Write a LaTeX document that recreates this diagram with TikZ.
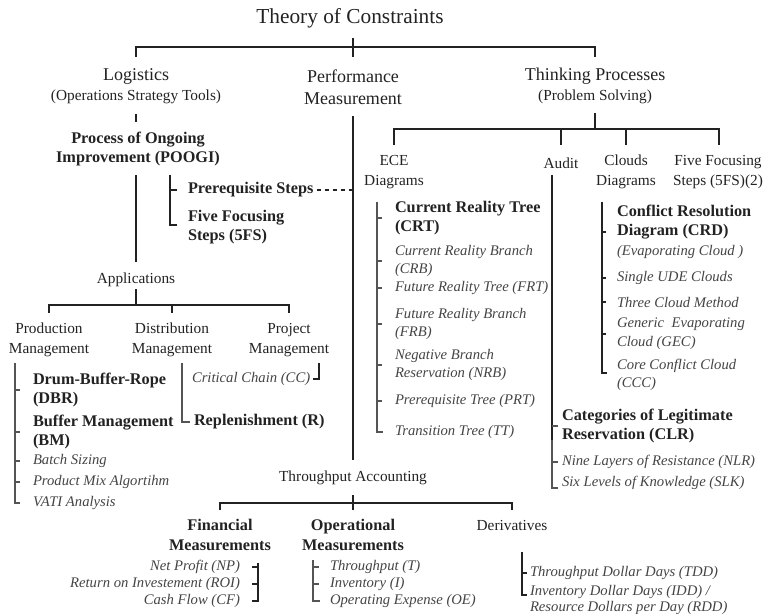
\documentclass[tikz,border=0pt]{standalone}
\usepackage{fontspec}
\setmainfont{Liberation Serif}
\begin{document}
\begin{tikzpicture}[x=0.75pt,y=-0.75pt]
\useasboundingbox (0,0) rectangle (764,614);
\definecolor{txt}{HTML}{222222}
\definecolor{itx}{HTML}{444444}
\definecolor{ln}{HTML}{222222}
\definecolor{lg}{HTML}{555555}
\tikzset{
 base/.style={inner sep=0pt, outer sep=0pt, text=txt},
 ttl/.style={base, font=\fontsize{16}{19}\selectfont},
 hdr/.style={base, align=center, font=\fontsize{13.5}{16.5}\selectfont},
 prn/.style={base, align=center, font=\fontsize{11.5}{13}\selectfont},
 sub/.style={base, align=center, font=\fontsize{11.5}{15}\selectfont},
 bld/.style={base, align=left, font=\fontsize{12.2}{14.5}\selectfont\bfseries},
 bldc/.style={bld, align=center},
 itl/.style={base, align=left, text=itx, font=\fontsize{11}{14}\selectfont\itshape},
 itr/.style={itl, align=right},
 tk/.style={draw=ln, line width=1.5pt},
 tn/.style={draw=ln, line width=0.8pt},
 tg/.style={draw=lg, line width=0.8pt},
}
% ---------- texts ----------
\node[ttl] (toc) at (350,18) {Theory of Constraints};
\node[hdr] (log) at (136,76) {Logistics};
\node[prn] (logsub) at (136,97) {(Operations Strategy Tools)};
\node[hdr] (perf) at (353,87) {Performance\\Measurement};
\node[hdr] (tp) at (595,76) {Thinking Processes};
\node[prn] (tpsub) at (595,97) {(Problem Solving)};
\node[bldc] (poogi) at (138,149) {Process of Ongoing\\Improvement (POOGI)};
\node[bld, anchor=west] (pre) at (188,190) {Prerequisite Steps};
\node[bld, anchor=west] (ffs) at (188,227) {Five Focusing\\Steps (5FS)};
\node[sub] (app) at (136,280) {Applications};
\node[sub] (prod) at (49,340) {Production\\Management};
\node[sub] (dist) at (172,340) {Distribution\\Management};
\node[sub] (proj) at (289,340) {Project\\Management};
\node[bld, anchor=west] (dbr) at (33,390) {Drum-Buffer-Rope\\(DBR)};
\node[bld, anchor=west] (bm) at (33,432) {Buffer Management\\(BM)};
\node[itl, anchor=west] (batch) at (33,461) {Batch Sizing};
\node[itl, anchor=west] (pmix) at (33,482) {Product Mix Algortihm};
\node[itl, anchor=west] (vati) at (33,503) {VATI Analysis};
\node[itl, anchor=west] (cc) at (192,379) {Critical Chain (CC)};
\node[bld, anchor=west] (repl) at (194,422) {Replenishment (R)};
\node[sub] (ece) at (394,172) {ECE\\Diagrams};
\node[sub] (audit) at (561,163) {Audit};
\node[sub] (clouds) at (626,172) {Clouds\\Diagrams};
\node[sub] (fivefs) at (718,172) {Five Focusing\\Steps (5FS)(2)};
\node[bld, anchor=west] (crt) at (395,218) {Current Reality Tree\\(CRT)};
\node[itl, anchor=west] (crb) at (395,261) {Current Reality Branch\\(CRB)};
\node[itl, anchor=west] (frt) at (395,288) {Future Reality Tree (FRT)};
\node[itl, anchor=west] (frb) at (395,324) {Future Reality Branch\\(FRB)};
\node[itl, anchor=west] (nrb) at (395,365) {Negative Branch\\Reservation (NRB)};
\node[itl, anchor=west] (prt) at (395,401) {Prerequisite Tree (PRT)};
\node[itl, anchor=west] (tt) at (395,432) {Transition Tree (TT)};
\node[bld, anchor=west] (crd) at (617,222) {Conflict Resolution\\Diagram (CRD)};
\node[itl, anchor=west] (evap) at (617,252) {(Evaporating Cloud )};
\node[itl, anchor=west] (ude) at (617,278) {Single UDE Clouds};
\node[itl, anchor=west] (three) at (617,302) {Three Cloud Method};
\node[itl, anchor=west] (gec) at (617,334) {Generic \ Evaporating\\Cloud (GEC)};
\node[itl, anchor=west] (ccc) at (617,375) {Core Conflict Cloud\\(CCC)};
\node[bld, anchor=west] (clr) at (562,426) {Categories of Legitimate\\Reservation (CLR)};
\node[itl, anchor=west] (nlr) at (562,462) {Nine Layers of Resistance (NLR)};
\node[itl, anchor=west] (slk) at (562,483) {Six Levels of Knowledge (SLK)};
\node[sub] (ta) at (353,478) {Throughput Accounting};
\node[bldc] (fin) at (220,535) {Financial\\Measurements};
\node[bldc] (oper) at (353,535) {Operational\\Measurements};
\node[sub] (deriv) at (512,525) {Derivatives};
\node[itr, anchor=east] (np) at (240,567) {Net Profit (NP)};
\node[itr, anchor=east] (roi) at (240,584) {Return on Investement (ROI)};
\node[itr, anchor=east] (cf) at (240,601) {Cash Flow (CF)};
\node[itl, anchor=west] (tput) at (330,567) {Throughput (T)};
\node[itl, anchor=west] (inv) at (330,584) {Inventory (I)};
\node[itl, anchor=west] (oe) at (330,601) {Operating Expense (OE)};
\node[itl, anchor=west] (tdd) at (530,573) {Throughput Dollar Days (TDD)};
\node[itl, anchor=west, font=\fontsize{11}{11.8}\selectfont\itshape] (idd) at (530,600) {Inventory Dollar Days (IDD) /\\Resource Dollars per Day (RDD)};
% ---------- coordinates ----------
\coordinate (topc) at (353,38);
\coordinate (topy) at (353,47);
\coordinate (topl) at (136,57);
\coordinate (topr) at (595,57);
\coordinate (topm) at (353,57);
\coordinate (crdtick) at (602,232);
% ---------- connectors ----------
% top bracket
\draw[tn] (topl) -- (topl |- topy) -- (topr |- topy) -- (topr);
\draw[tk] (topc) -- (topm);
% logistics
\draw[tk] (136,114) -- (136,122);
\draw[tk] (136,175) -- (136,262);
\draw[tn] (170,175) -- (170,225) -- (177,225);
\draw[tn] (170,0 |- pre) -- (177,0 |- pre);
\draw[tn, dashed] ([xshift=3pt]pre.east) -- (353,0 |- pre);
% performance measurement trunk
\draw[tk] (353,116) -- (353,460);
% applications
\draw[tk] (136,289) -- (136,305);
\draw[tn] (49,313) -- (49,305) -- (289,305) -- (289,313);
\draw[tn] (172,305) -- (172,313);
\draw[tg] (15,363) -- (15,503) -- (20,503);
\foreach \n in {dbr,bm,batch,pmix} \draw[tg] (15,0 |- \n) -- (20,0 |- \n);
\draw[tg] (182,363) -- (182,0 |- repl) -- (190,0 |- repl);
\draw[tn] (319,363) -- (319,0 |- cc) -- ([xshift=2.5pt]cc.east);
% thinking processes
\draw[tk] (595,113) -- (595,129);
\draw[tn] (394,145) -- (394,129) -- (719,129) -- (719,145);
\draw[tk] (561,129) -- (561,145);
\draw[tk] (626,129) -- (626,145);
% ECE bracket
\draw[tg] (377,202) -- (377,0 |- tt) -- (383,0 |- tt);
\foreach \n in {crt,crb,frt,frb,nrb,prt} \draw[tg] (377,0 |- \n) -- (382,0 |- \n);
% audit
\draw[tk] (552,175) -- (552,440);
\draw[tg] (552,440) -- (552,488) -- (558,488);
\foreach \n in {clr,nlr} \draw[tg] (552,0 |- \n) -- (558,0 |- \n);
% clouds
\draw[tn] (602,202) -- (602,373) -- (607,373);
\draw[tn] (crdtick) -- ++(4,0);
\foreach \n in {ude,three,gec} \draw[tn] (602,0 |- \n) -- (606,0 |- \n);
% throughput accounting
\draw[tk] (353,495) -- (353,510);
\draw[tn] (220,510) -- (220,503) -- (512,503) -- (512,510);
\draw[tn] (258,563) -- (258,0 |- cf) -- (252,0 |- cf);
\foreach \n in {np,roi} \draw[tn] (258,0 |- \n) -- (252,0 |- \n);
\draw[tg] (313,560) -- (313,0 |- oe) -- (320,0 |- oe);
\foreach \n in {tput,inv} \draw[tg] (313,0 |- \n) -- (319,0 |- \n);
\draw[tn] (522,552) -- (522,595) -- (527,595);
\draw[tn] (522,0 |- tdd) -- (527,0 |- tdd);
\end{tikzpicture}
\end{document}
